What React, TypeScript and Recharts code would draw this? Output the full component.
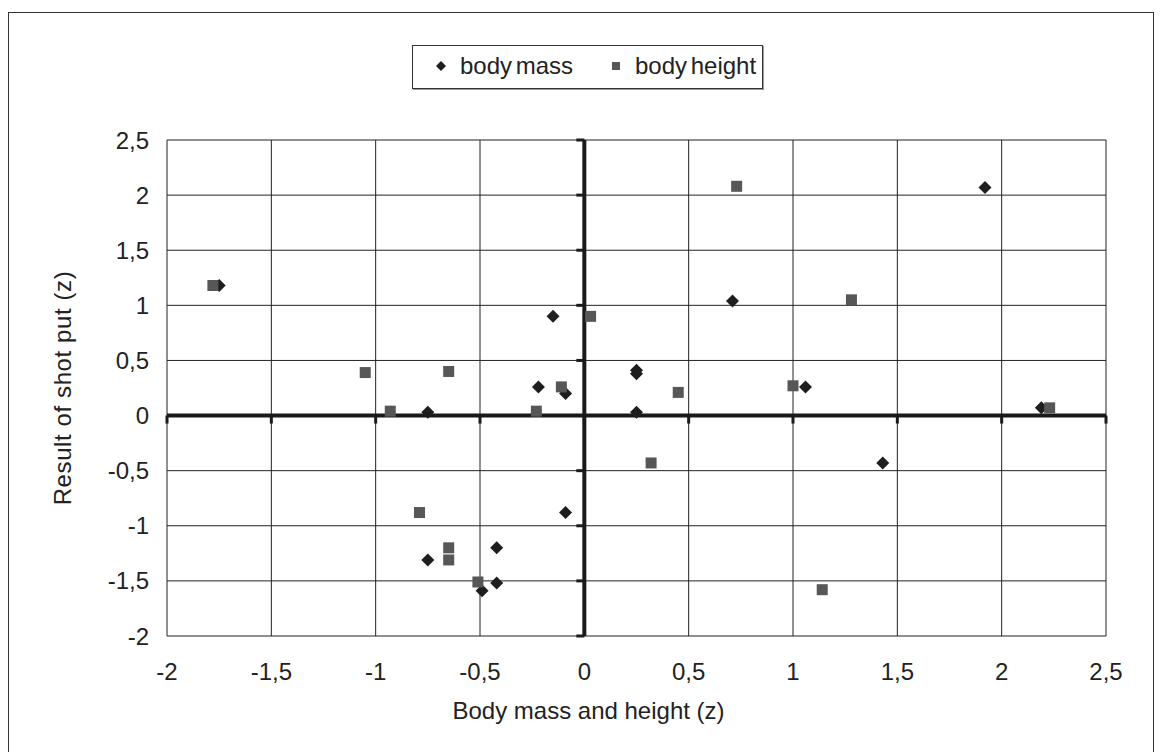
import React from 'react';
import { ScatterChart, Scatter, XAxis, YAxis, CartesianGrid, ReferenceLine, ReferenceDot } from 'recharts';

// z-scores
const massX = [-1.75, -0.75, -0.22, -0.09, -0.15, 0.71, 1.92, 0.25, 0.25, 1.06, 0.25, 2.19, 1.43, -0.09, -0.75, -0.42, -0.49, -0.42];
const massY = [1.18, 0.03, 0.26, 0.2, 0.9, 1.04, 2.07, 0.41, 0.38, 0.26, 0.03, 0.07, -0.43, -0.88, -1.31, -1.2, -1.59, -1.52];
const heightX = [-1.78, -1.05, -0.93, -0.65, -0.11, -0.23, 0.03, 0.73, 1.28, 0.45, 1.0, 2.23, 0.32, 1.14, -0.79, -0.65, -0.65, -0.51];
const heightY = [1.18, 0.39, 0.04, 0.4, 0.26, 0.04, 0.9, 2.08, 1.05, 0.21, 0.27, 0.07, -0.43, -1.58, -0.88, -1.2, -1.31, -1.51];

const xTicks = [-2, -1.5, -1, -0.5, 0, 0.5, 1, 1.5, 2, 2.5];
const yTicks = [-2, -1.5, -1, -0.5, 0, 0.5, 1, 1.5, 2, 2.5];

const seriesNames = ['body mass', 'body height'];
const MASS_COLOR = '#1e1e1e';
const HEIGHT_COLOR = '#575757';
const FONT = '"Liberation Sans", Arial, sans-serif';

const massData = massX.map((x, i) => ({ x, y: massY[i] }));
const heightData = heightX.map((x, i) => ({ x, y: heightY[i] }));

const fmt = (v: number) => String(v).replace('.', ',');

const Diamond = ({ cx, cy }: any) => (
  <polygon points={`${cx},${cy - 6.5} ${cx + 6.5},${cy} ${cx},${cy + 6.5} ${cx - 6.5},${cy}`} fill={MASS_COLOR} />
);

const Square = ({ cx, cy }: any) => (
  <rect x={cx - 5.5} y={cy - 5.5} width={11} height={11} fill={HEIGHT_COLOR} />
);

// little tick marks sitting on the zero axes
const XZeroTick = ({ cx, cy }: any) => (
  <line x1={cx} y1={cy} x2={cx} y2={cy + 8} stroke="#1a1a1a" strokeWidth={3} />
);
const YZeroTick = ({ cx, cy }: any) => (
  <line x1={cx} y1={cy} x2={cx - 8} y2={cy} stroke="#1a1a1a" strokeWidth={3} />
);

const tickStyle = { fill: '#222', fontSize: 24, fontFamily: FONT };

export default function App() {
  return (
    <div style={{ position: 'absolute', left: 0, top: 0, width: 1166, height: 752, background: '#fff', overflow: 'hidden', fontFamily: FONT }}>
      <div style={{ position: 'absolute', left: 8, top: 12, width: 1146, height: 760, border: '1px solid #333', boxSizing: 'border-box' }} />

      <div style={{ position: 'absolute', left: 412, top: 45, width: 351, height: 44, border: '1px solid #333', boxSizing: 'border-box', boxShadow: '1px 1px 0 #999', background: '#fff' }}>
        <svg width={20} height={20} style={{ position: 'absolute', left: 18, top: 10 }}>
          <polygon points="10,5 15,10 10,15 5,10" fill={MASS_COLOR} />
        </svg>
        <span style={{ position: 'absolute', left: 47, top: 6, fontSize: 24, color: '#222', wordSpacing: -3, whiteSpace: 'nowrap' }}>{seriesNames[0]}</span>
        <svg width={20} height={20} style={{ position: 'absolute', left: 193, top: 10 }}>
          <rect x={6} y={6} width={8} height={8} fill={HEIGHT_COLOR} />
        </svg>
        <span style={{ position: 'absolute', left: 222, top: 6, fontSize: 24, color: '#222', wordSpacing: -3, whiteSpace: 'nowrap' }}>{seriesNames[1]}</span>
      </div>

      <div style={{ position: 'absolute', left: 0, top: 0 }}>
        <ScatterChart width={1166} height={752} margin={{ top: 140, right: 60, bottom: 16, left: 8 }}>
          <CartesianGrid stroke="#222" horizontalFill={[]} verticalFill={[]} horizontal={{ stroke: '#5a5a5a' } as any} vertical={{ stroke: '#222' } as any} />
          <XAxis
            type="number"
            dataKey="x"
            domain={[-2, 2.5]}
            ticks={xTicks}
            interval={0}
            allowDataOverflow
            axisLine={false}
            tickLine={false}
            tickMargin={21}
            tickFormatter={fmt}
            tick={tickStyle}
            height={100}
            label={{ value: 'Body mass and height (z)', position: 'insideBottom', offset: 17, dx: -48, style: { fill: '#222', fontSize: 24, fontFamily: FONT } }}
          />
          <YAxis
            type="number"
            dataKey="y"
            domain={[-2, 2.5]}
            ticks={yTicks}
            interval={0}
            allowDataOverflow
            axisLine={false}
            tickLine={false}
            tickMargin={12}
            tickFormatter={fmt}
            tick={tickStyle}
            width={159}
            label={{ value: 'Result of shot put (z)', angle: -90, position: 'insideLeft', offset: 54, style: { textAnchor: 'middle', fill: '#222', fontSize: 24, fontFamily: FONT, letterSpacing: 0.6 } }}
          />
          <ReferenceLine x={0} stroke="#1a1a1a" strokeWidth={4} />
          <ReferenceLine y={0} stroke="#1a1a1a" strokeWidth={4} />
          {xTicks.map((t) => (
            <ReferenceDot key={`xt${t}`} x={t} y={0} r={0} shape={XZeroTick} />
          ))}
          {yTicks.map((t) => (
            <ReferenceDot key={`yt${t}`} x={0} y={t} r={0} shape={YZeroTick} />
          ))}
          <Scatter name={seriesNames[0]} data={massData} shape={Diamond} isAnimationActive={false} />
          <Scatter name={seriesNames[1]} data={heightData} shape={Square} isAnimationActive={false} />
        </ScatterChart>
      </div>
    </div>
  );
}
